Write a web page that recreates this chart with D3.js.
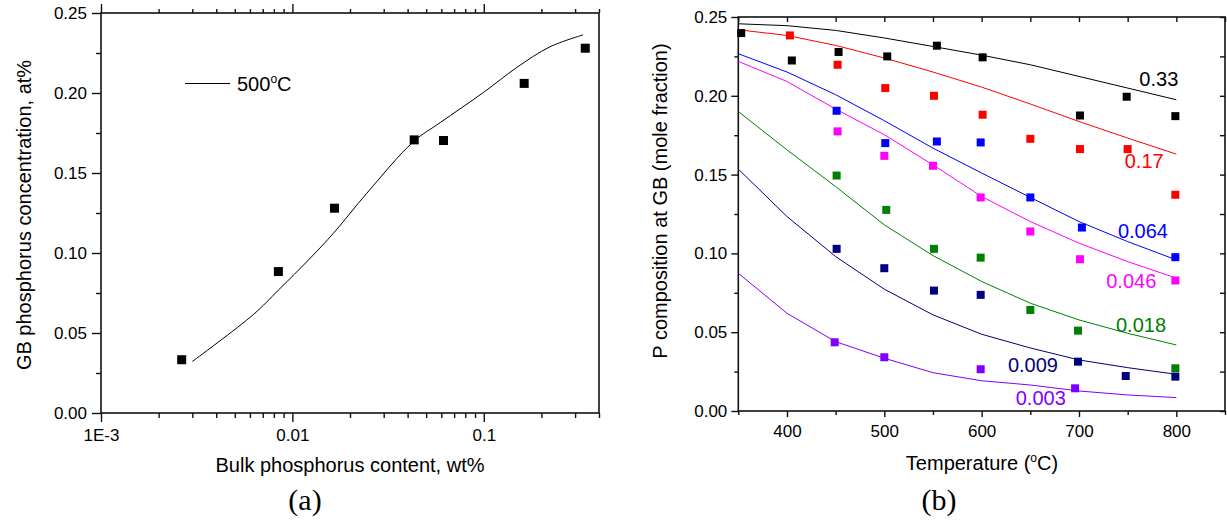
<!DOCTYPE html>
<html>
<head>
<meta charset="utf-8">
<script src="https://cdn.jsdelivr.net/npm/d3@7"></script>
<style>
  body { margin: 0; background: #fff; }
  svg { display: block; }
  text { fill: #000; }
</style>
</head>
<body>
<script>
// ---- panel (a) data ----
var bulkP = [0.00264, 0.00845, 0.0166, 0.0433, 0.0616, 0.1626, 0.339];
var gbP = [0.0333, 0.0884, 0.128, 0.1707, 0.1703, 0.206, 0.228];
var fitBulk = [0.003, 0.00625, 0.00845, 0.0124, 0.0164, 0.0245, 0.0429, 0.0592, 0.1, 0.149, 0.222, 0.33];
var fitGB = [0.0322, 0.0615, 0.0768, 0.0968, 0.1124, 0.1374, 0.1696, 0.1815, 0.2005, 0.2160, 0.2289, 0.2363];
var aXTicks = [0.001, 0.01, 0.1];
var aXTickLabels = ["1E-3", "0.01", "0.1"];
var yTicks = [0, 0.05, 0.10, 0.15, 0.20, 0.25];

// ---- panel (b) data ----
var compLabels = ["0.33", "0.17", "0.064", "0.046", "0.018", "0.009", "0.003"];
var fitTemps = [350, 400, 450, 500, 550, 600, 650, 700, 750, 800];
var fit033 = [0.2457, 0.2445, 0.2415, 0.2367, 0.2313, 0.2258, 0.2197, 0.2123, 0.2049, 0.1975];
var fit017 = [0.2419, 0.2383, 0.2320, 0.2240, 0.2151, 0.2055, 0.1948, 0.1837, 0.1732, 0.1630];
var fit0064 = [0.2267, 0.2151, 0.2007, 0.1842, 0.1668, 0.1510, 0.1355, 0.1202, 0.1075, 0.0959];
var fit0046 = [0.2218, 0.2091, 0.1916, 0.1753, 0.1562, 0.1361, 0.1202, 0.1065, 0.0948, 0.0843];
var fit0018 = [0.1900, 0.1657, 0.1424, 0.1181, 0.0986, 0.0822, 0.0684, 0.0578, 0.0493, 0.0419];
var fit0009 = [0.1535, 0.1234, 0.0980, 0.0773, 0.0610, 0.0487, 0.0400, 0.0324, 0.0275, 0.0233];
var fit0003 = [0.0874, 0.0620, 0.0440, 0.0335, 0.0243, 0.0192, 0.0165, 0.0127, 0.0102, 0.0085];

var t033 = [353, 405, 453, 503, 554, 601, 701, 749, 799];
var p033 = [0.2398, 0.2224, 0.2278, 0.2250, 0.2318, 0.2244, 0.1875, 0.1994, 0.1871];
var t017 = [403, 452, 501, 551, 601, 650, 701, 750, 799];
var p017 = [0.2383, 0.2197, 0.2049, 0.2000, 0.1880, 0.1727, 0.1662, 0.1662, 0.1372];
var t0064 = [451, 501, 554, 599, 650, 703, 799];
var p0064 = [0.1905, 0.1700, 0.1710, 0.1704, 0.1355, 0.1164, 0.0976];
var t0046 = [452, 500, 550, 599, 650, 701, 799];
var p0046 = [0.1774, 0.1619, 0.1556, 0.1355, 0.1139, 0.0963, 0.0828];
var t0018 = [451, 502, 551, 599, 650, 699, 799];
var p0018 = [0.1494, 0.1276, 0.1029, 0.0973, 0.0641, 0.0510, 0.0271];
var t0009 = [451, 500, 551, 599, 699, 748, 799];
var p0009 = [0.1029, 0.0906, 0.0764, 0.0737, 0.0313, 0.0222, 0.0218];
var t0003 = [449, 500, 599, 696];
var p0003 = [0.0436, 0.0341, 0.0265, 0.0144];

// where each composition label sits (data units: temperature, fraction)
var labelT = [762, 747, 740, 728, 738, 627, 635];
var labelP = [0.206, 0.154, 0.110, 0.078, 0.050, 0.025, 0.0038];

var colors = ["#000000", "#ff0000", "#0000ff", "#ff00ff", "#008000", "#000080", "#8000ff"];
var xbTicks = [400, 500, 600, 700, 800];

var fits = [fit033, fit017, fit0064, fit0046, fit0018, fit0009, fit0003];
var pts = [[t033, p033], [t017, p017], [t0064, p0064], [t0046, p0046], [t0018, p0018], [t0009, p0009], [t0003, p0003]];

var SANS = "Liberation Sans, Arial, sans-serif";
var SERIF = "Liberation Serif, Times New Roman, serif";

var W = 1227, H = 525;
var svg = d3.select("body").append("svg").attr("width", W).attr("height", H)
  .style("font-family", SANS);

function frame(g, x0, x1, y0, y1) {
  g.append("rect").attr("x", x0).attr("y", y0).attr("width", x1 - x0).attr("height", y1 - y0)
    .attr("fill", "none").attr("stroke", "#111").attr("stroke-width", 1.6);
}
function clean(sel) {
  sel.select(".domain").remove();
  sel.selectAll("line").attr("stroke", "#111").attr("stroke-width", 1.4);
  sel.selectAll("text").attr("font-size", 17).attr("fill", "#000").style("font-family", SANS);
}

// ================= panel (a) =================
var ax = d3.scaleLog().domain([0.001, 0.4]).range([101, 599]);
var ay = d3.scaleLinear().domain([0, 0.25]).range([413, 13]);
var ga = svg.append("g");

var aMinor = [];
[0.001, 0.01, 0.1].forEach(function (d) {
  for (var k = 2; k <= 9; k++) { if (d * k <= 0.4) aMinor.push(d * k); }
});
var yMinor = [0.025, 0.075, 0.125, 0.175, 0.225];

ga.append("g").attr("transform", "translate(0,413)")
  .call(d3.axisBottom(ax).tickValues(aXTicks).tickSize(9).tickPadding(7)
    .tickFormat(function (d, i) { return aXTickLabels[i]; })).call(clean);
ga.append("g").attr("transform", "translate(0,413)")
  .call(d3.axisBottom(ax).tickValues(aMinor).tickSize(5).tickFormat("")).call(clean);
ga.append("g").attr("transform", "translate(0,13)")
  .call(d3.axisTop(ax).tickValues(aXTicks).tickSize(9).tickFormat("")).call(clean);
ga.append("g").attr("transform", "translate(0,13)")
  .call(d3.axisTop(ax).tickValues(aMinor).tickSize(4).tickFormat("")).call(clean);
ga.append("g").attr("transform", "translate(101,0)")
  .call(d3.axisLeft(ay).tickValues(yTicks).tickSize(9).tickPadding(5).tickFormat(d3.format(".2f"))).call(clean);
ga.append("g").attr("transform", "translate(101,0)")
  .call(d3.axisLeft(ay).tickValues(yMinor).tickSize(5).tickFormat("")).call(clean);
frame(ga, 101, 599, 13, 413);

var fitA = fitBulk.map(function (d, i) { return [d, fitGB[i]]; });
ga.append("path").datum(fitA)
  .attr("d", d3.line().x(function (d) { return ax(d[0]); }).y(function (d) { return ay(d[1]); })
    .curve(d3.curveCatmullRom.alpha(0.5)))
  .attr("fill", "none").attr("stroke", "#000").attr("stroke-width", 1);

ga.selectAll("rect.pt").data(bulkP).enter().append("rect").attr("class", "pt")
  .attr("x", function (d) { return ax(d) - 4.5; })
  .attr("y", function (d, i) { return ay(gbP[i]) - 4.5; })
  .attr("width", 9).attr("height", 9).attr("fill", "#000");

// legend
ga.append("line").attr("x1", 185).attr("x2", 230).attr("y1", 83.5).attr("y2", 83.5)
  .attr("stroke", "#000").attr("stroke-width", 1);
var lt = ga.append("text").attr("x", 237).attr("y", 91).attr("font-size", 20);
lt.append("tspan").text("500");
lt.append("tspan").attr("font-size", 12).attr("dy", -8).text("o");
lt.append("tspan").attr("dy", 8).text("C");

ga.append("text").attr("x", 350).attr("y", 472).attr("text-anchor", "middle")
  .attr("font-size", 20).text("Bulk phosphorus content, wt%");
ga.append("text").attr("transform", "translate(31,215) rotate(-90)").attr("text-anchor", "middle")
  .attr("font-size", 20).text("GB phosphorus concentration, at%");
ga.append("text").attr("x", 305).attr("y", 510).attr("text-anchor", "middle")
  .style("font-family", SERIF).attr("font-size", 30).text("(a)");

// ================= panel (b) =================
var bx = d3.scaleLinear().domain([350, 850]).range([738.3, 1225]);
var by = d3.scaleLinear().domain([0, 0.25]).range([411, 17]);
var gb = svg.append("g");
var bxMinor = [350, 450, 550, 650, 750, 850];
var bxAll = d3.range(350, 851, 50);

gb.append("g").attr("transform", "translate(0,411)")
  .call(d3.axisBottom(bx).tickValues(xbTicks).tickSize(6).tickPadding(8).tickFormat(d3.format("d"))).call(clean);
gb.append("g").attr("transform", "translate(0,411)")
  .call(d3.axisBottom(bx).tickValues(bxMinor).tickSize(4).tickFormat("")).call(clean);
gb.append("g").attr("transform", "translate(0,17)")
  .call(d3.axisBottom(bx).tickValues(bxAll).tickSize(5).tickFormat("")).call(clean);
gb.append("g").attr("transform", "translate(738.3,0)")
  .call(d3.axisLeft(by).tickValues(yTicks).tickSize(7).tickPadding(4).tickFormat(d3.format(".2f"))).call(clean);
gb.append("g").attr("transform", "translate(738.3,0)")
  .call(d3.axisLeft(by).tickValues(yMinor).tickSize(4).tickFormat("")).call(clean);
gb.append("g").attr("transform", "translate(1225,0)")
  .call(d3.axisLeft(by).tickValues(yTicks.concat(yMinor)).tickSize(5).tickFormat("")).call(clean);
frame(gb, 738.3, 1225, 17, 411);

var lineB = d3.line().x(function (d) { return bx(d[0]); }).y(function (d) { return by(d[1]); });
fits.forEach(function (f, s) {
  gb.append("path").datum(fitTemps.map(function (t, i) { return [t, f[i]]; }))
    .attr("d", lineB).attr("fill", "none").attr("stroke", colors[s]).attr("stroke-width", 1);
});
pts.forEach(function (p, s) {
  gb.selectAll("rect.s" + s).data(p[0]).enter().append("rect").attr("class", "s" + s)
    .attr("x", function (d) { return bx(d) - 4; })
    .attr("y", function (d, i) { return by(p[1][i]) - 4; })
    .attr("width", 8).attr("height", 8).attr("fill", colors[s]);
});
compLabels.forEach(function (l, s) {
  gb.append("text").attr("x", bx(labelT[s])).attr("y", by(labelP[s]))
    .attr("font-size", 20).style("fill", colors[s]).text(l);
});

var tt = gb.append("text").attr("x", 982).attr("y", 470).attr("text-anchor", "middle").attr("font-size", 20);
tt.append("tspan").text("Temperature (");
tt.append("tspan").attr("font-size", 12).attr("dy", -8).text("o");
tt.append("tspan").attr("dy", 8).text("C)");
gb.append("text").attr("transform", "translate(667,201) rotate(-90)").attr("text-anchor", "middle")
  .attr("font-size", 20).text("P composition at GB (mole fraction)");
gb.append("text").attr("x", 939).attr("y", 510).attr("text-anchor", "middle")
  .style("font-family", SERIF).attr("font-size", 30).text("(b)");
</script>
</body>
</html>
